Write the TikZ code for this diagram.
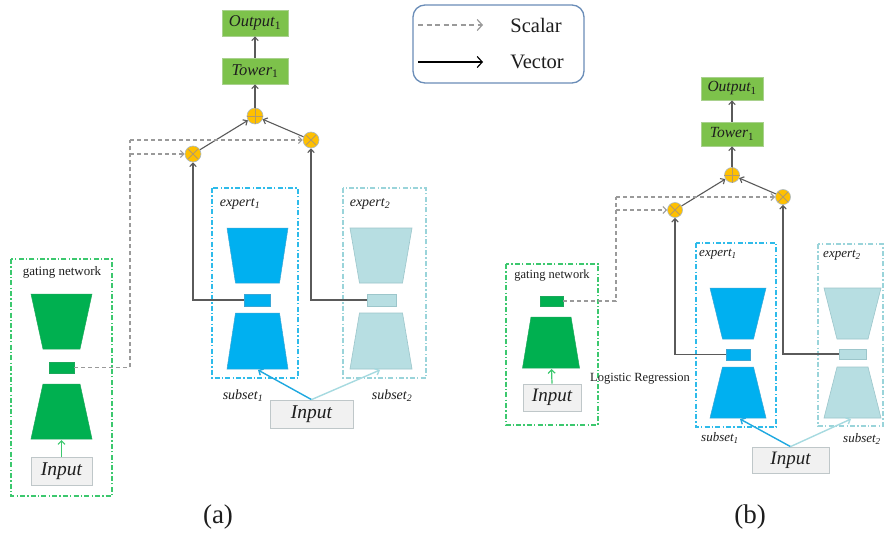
\documentclass[tikz,border=0pt]{standalone}
\usepackage{fontspec}
\setmainfont{Liberation Serif}
\usetikzlibrary{arrows.meta,calc}

\definecolor{towergreen}{HTML}{7DC24B}
\definecolor{towerborder}{HTML}{A9D18E}
\definecolor{gatefill}{HTML}{00B050}
\definecolor{gateedge}{HTML}{1BA85A}
\definecolor{gateframe}{HTML}{3CC86E}
\definecolor{expA}{HTML}{00B0F0}
\definecolor{expAedge}{HTML}{3AA6D6}
\definecolor{expAframe}{HTML}{2EBBEA}
\definecolor{expB}{HTML}{B7DEE2}
\definecolor{expBedge}{HTML}{9CC6CB}
\definecolor{expBframe}{HTML}{9AD4DA}
\definecolor{inpfill}{HTML}{F1F1F1}
\definecolor{inpedge}{HTML}{BFC7C9}
\definecolor{opfill}{HTML}{FFC000}
\definecolor{opedge}{HTML}{A9B9C6}
\definecolor{opmark}{HTML}{B39A6A}
\definecolor{vecline}{HTML}{5A5A5A}
\definecolor{scaline}{HTML}{9A9A9A}
\definecolor{legendedge}{HTML}{6A8DB8}
\definecolor{txt}{HTML}{1E1E1E}
\definecolor{inlineA}{HTML}{1EA8E0}
\definecolor{inlineB}{HTML}{A6DAE0}

% trapezoid wide at the top: centre x, top y, bottom y, wide half-width, narrow half-width, style
\newcommand{\trapdn}[6]{\filldraw[#6] (#1-#4,#2) -- (#1+#4,#2) -- (#1+#5,#3) -- (#1-#5,#3) -- cycle;}
% trapezoid wide at the bottom
\newcommand{\trapup}[6]{\filldraw[#6] (#1-#5,#2) -- (#1+#5,#2) -- (#1+#4,#3) -- (#1-#4,#3) -- cycle;}

\tikzset{
  fs/.style={font=\fontsize{#1}{#1}\selectfont},
  towerbox/.style={draw=towerborder, fill=towergreen, line width=0.8pt, inner sep=0pt,
    text=txt, font=\fontsize{16.5}{16.5}\selectfont\itshape},
  inputbox/.style={draw=inpedge, fill=inpfill, line width=0.8pt, inner sep=0pt,
    text=txt, font=\fontsize{19.5}{19.5}\selectfont\itshape},
  opnode/.style={circle, draw=opedge, fill=opfill, line width=0.6pt, minimum size=#1, inner sep=0pt},
  mulop/.style={opnode=#1},
  addop/.style={opnode=#1},
  vector/.style={draw=vecline, line width=1.1pt, -{Straight Barb[length=3.5pt,width=6.5pt]}},
  scalar/.style={draw=scaline, line width=1.1pt, dash pattern=on 4pt off 3pt},
  scalarhead/.style={scalar, -{Straight Barb[length=3.5pt,width=7pt]}},
  gatepart/.style={fill=gatefill, draw=gateedge, line width=0.5pt},
  expApart/.style={fill=expA, draw=expAedge, line width=0.5pt},
  expBpart/.style={fill=expB, draw=expBedge, line width=0.6pt},
  frame/.style={line width=1.3pt, dash pattern=on 5pt off 2.2pt on 1.3pt off 2.2pt},
  smallbar/.style={rectangle, inner sep=0pt, minimum width=#1},
  lbl/.style={text=txt, inner sep=0pt},
  opmarkline/.style={draw=opmark, line width=0.8pt},
}

% marks inside the combination circles
\newcommand{\mulmark}[1]{\draw[opmarkline] ($(#1.center)+(-45:0.93*\opr)$) -- ($(#1.center)+(135:0.93*\opr)$)
  ($(#1.center)+(45:0.93*\opr)$) -- ($(#1.center)+(225:0.93*\opr)$);}
\newcommand{\addmark}[1]{\draw[opmarkline] ($(#1.west)$) -- ($(#1.east)$) ($(#1.north)$) -- ($(#1.south)$);}
\newcommand{\opr}{7.5pt}

\begin{document}
\begin{tikzpicture}[x=1pt,y=-1pt]
\useasboundingbox[fill=white] (0,0) rectangle (885,535);

% ---------------- legend ----------------
\draw[legendedge, rounded corners=12pt, line width=1.3pt] (413,5) rectangle (584,83);
\coordinate (ls0) at (418,25);
\coordinate (ls1) at (483,25);
\coordinate (lv0) at (418,62);
\coordinate (lv1) at (483,62);
\draw[scaline, line width=1.2pt, dash pattern=on 5pt off 3.5pt, -{Straight Barb[length=5pt,width=11pt]}] (ls0) -- (ls1);
\draw[black, line width=1.2pt, -{Straight Barb[length=5pt,width=11pt]}] (lv0) -- (lv1);
\node[lbl, fs=20.5] (lscalar) at (536,25) {Scalar};
\node[lbl, fs=20.5] (lvector) at (537,62) {Vector};

% ================= panel (a) =================
% frames
\draw[frame, gateframe] (11,259) rectangle (112,496);
\draw[frame, expAframe] (212,188) rectangle (298,378);
\draw[frame, expBframe] (343,188) rectangle (426,378);

\node[lbl, fs=13] (gla) at (62,272) {gating network};
\node[lbl, fs=14] (e1la) at (240,204) {\itshape expert\textsubscript{1}};
\node[lbl, fs=14] (e2la) at (370,204) {\itshape expert\textsubscript{2}};
\node[lbl, fs=14] (s1la) at (243,396) {\itshape subset\textsubscript{1}};
\node[lbl, fs=14] (s2la) at (392,396) {\itshape subset\textsubscript{2}};

% gating network
\trapdn{61.5}{294}{349}{30.5}{18.5}{gatepart}
\node[smallbar=25pt, minimum height=11pt, gatepart] (ga) at (61.5,367.5) {};
\trapup{61.5}{384}{439}{30.5}{18.5}{gatepart}
\coordinate (gain) at (61.5,440);
\node[inputbox, minimum width=61pt, minimum height=28pt] (gainp) at (61.5,471) {Input};
\draw[gateframe, line width=1.2pt, -{Straight Barb[length=3.5pt,width=7pt]}] (gainp.north) -- (gain);

% expert 1
\trapdn{257.5}{228}{283}{30.5}{22}{expApart}
\node[smallbar=26pt, minimum height=12pt, expApart] (e1a) at (257,300) {};
\trapup{257.5}{313}{369}{30.5}{22}{expApart}
\coordinate (e1ain) at (258,370);

% expert 2
\trapdn{381}{228}{283}{31}{21.5}{expBpart}
\node[smallbar=29pt, minimum height=12pt, expBpart] (e2a) at (381.5,300) {};
\trapup{381}{313}{369}{31}{21.5}{expBpart}
\coordinate (e2ain) at (380,370);

% shared input
\node[inputbox, minimum width=83pt, minimum height=28pt] (inpa) at (311.5,414) {Input};
\draw[inlineA, line width=1.4pt, -{Straight Barb[length=3.5pt,width=7pt]}] (inpa.north) -- (e1ain);
\draw[inlineB, line width=1.4pt, -{Straight Barb[length=3.5pt,width=7pt]}] (inpa.north) -- (e2ain);

% combination
\node[mulop=16pt] (x1a) at (193,154) {};
\node[mulop=16pt] (x2a) at (311,140) {};
\node[addop=16pt] (pa) at (255,116) {};
\mulmark{x1a}
\mulmark{x2a}
\addmark{pa}
\node[towerbox, minimum width=66pt, minimum height=26pt] (towa) at (255,71) {Tower\textsubscript{\upshape 1}};
\node[towerbox, minimum width=66pt, minimum height=26pt] (outa) at (255,23) {Output\textsubscript{\upshape 1}};

\draw[vector] (e1a.west) -| (x1a.south);
\draw[vector] (e2a.west) -| (x2a.south);
\draw[vector] (x1a) -- (pa);
\draw[vector] (x2a) -- (pa);
\draw[vector] (pa.north) -- (towa.south);
\draw[vector] (towa.north) -- (outa.south);

\coordinate (da1) at (130,140);
\coordinate (da2) at (130,154);
\draw[scalar] (ga.east) -| (da1);
\draw[scalarhead] (da1) -- (x2a.west);
\draw[scalarhead] (da2) -- (x1a.west);

\node[lbl, fs=27] (capa) at (218,517) {(a)};

% ================= panel (b) =================
\draw[frame, gateframe] (506,264) rectangle (598,425);
\draw[frame, expAframe] (696,243) rectangle (776,427);
\draw[frame, expBframe] (818,244) rectangle (883,426);

\node[lbl, fs=12.5] (glb) at (552,276) {gating network};
\node[lbl, fs=13] (e1lb) at (718,254) {\itshape expert\textsubscript{1}};
\node[lbl, fs=13] (e2lb) at (842,255) {\itshape expert\textsubscript{2}};
\node[lbl, fs=13] (s1lb) at (720,438) {\itshape subset\textsubscript{1}};
\node[lbl, fs=13] (s2lb) at (862,439) {\itshape subset\textsubscript{2}};
\node[lbl, fs=12.5] (lrb) at (640,379) {Logistic Regression};

% gating network (logistic regression)
\node[smallbar=23pt, minimum height=10pt, gatepart] (gb) at (551.5,301) {};
\trapup{551}{317}{368}{28.5}{20}{gatepart}
\coordinate (gbin) at (551.5,369);
\node[inputbox, font=\fontsize{19}{19}\selectfont\itshape, minimum width=58pt, minimum height=27pt] (gbinp) at (552,397.5) {Input};
\draw[gateframe, line width=1.2pt, -{Straight Barb[length=3.5pt,width=7pt]}] (gbinp.north) -- (gbin);

% expert 1
\trapdn{738}{288}{339}{28}{15.5}{expApart}
\node[smallbar=24pt, minimum height=11pt, expApart] (e1b) at (738,354.5) {};
\trapup{738}{367}{418}{28}{15.5}{expApart}
\coordinate (e1bin) at (740,419);

% expert 2
\trapdn{852.5}{288}{339}{28.5}{15.5}{expBpart}
\node[smallbar=27pt, minimum height=10pt, expBpart] (e2b) at (852.5,354) {};
\trapup{852.5}{367}{418}{28.5}{15.5}{expBpart}
\coordinate (e2bin) at (851,419);

% shared input
\node[inputbox, font=\fontsize{19}{19}\selectfont\itshape, minimum width=77pt, minimum height=26pt] (inpb) at (790.5,460) {Input};
\draw[inlineA, line width=1.4pt, -{Straight Barb[length=3.5pt,width=7pt]}] (inpb.north) -- (e1bin);
\draw[inlineB, line width=1.4pt, -{Straight Barb[length=3.5pt,width=7pt]}] (inpb.north) -- (e2bin);

% combination
\node[mulop=15pt] (x1b) at (675,210) {};
\node[mulop=15pt] (x2b) at (783,197) {};
\node[addop=15pt] (pb) at (732,175) {};
\mulmark{x1b}
\mulmark{x2b}
\addmark{pb}
\node[towerbox, font=\fontsize{15.5}{15.5}\selectfont\itshape, minimum width=62pt, minimum height=24pt] (towb) at (732,134) {Tower\textsubscript{\upshape 1}};
\node[towerbox, font=\fontsize{15.5}{15.5}\selectfont\itshape, minimum width=62pt, minimum height=23pt] (outb) at (732,88.5) {Output\textsubscript{\upshape 1}};

\draw[vector] (e1b.west) -| (x1b.south);
\draw[vector] (e2b.west) -| (x2b.south);
\draw[vector] (x1b) -- (pb);
\draw[vector] (x2b) -- (pb);
\draw[vector] (pb.north) -- (towb.south);
\draw[vector] (towb.north) -- (outb.south);

\coordinate (db1) at (616,197);
\coordinate (db2) at (616,210);
\draw[scalar] (gb.east) -| (db1);
\draw[scalarhead] (db1) -- (x2b.west);
\draw[scalarhead] (db2) -- (x1b.west);

\node[lbl, fs=27] (capb) at (750,517) {(b)};
\end{tikzpicture}
\end{document}
